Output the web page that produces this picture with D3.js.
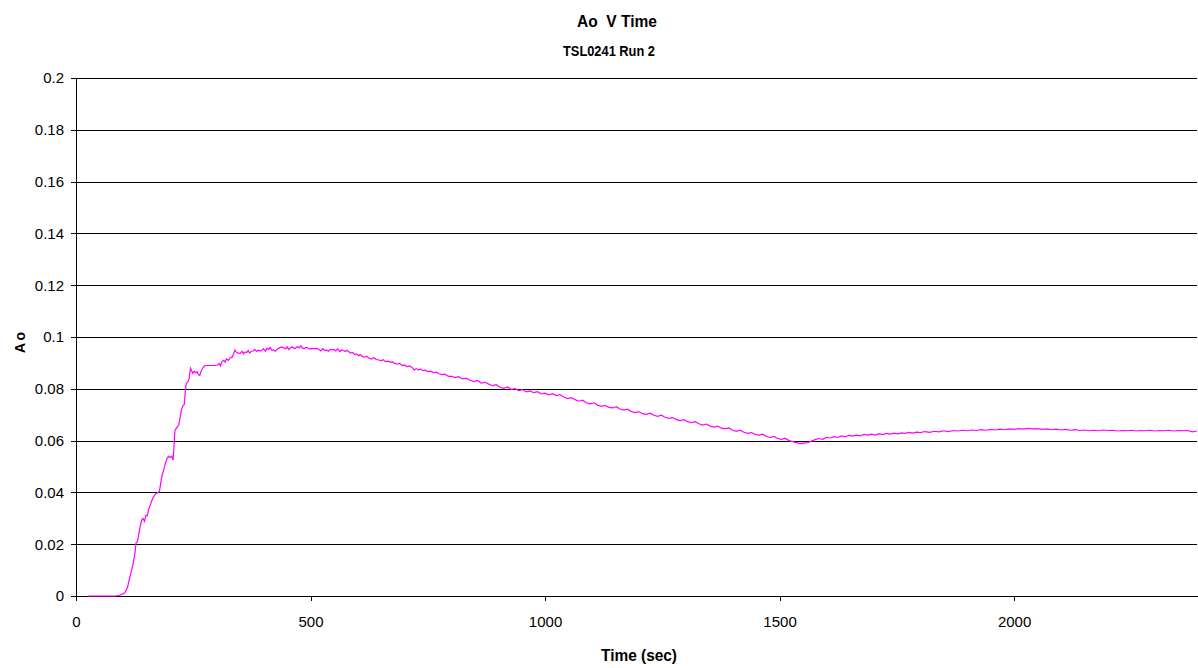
<!DOCTYPE html>
<html>
<head>
<meta charset="utf-8">
<script src="https://cdn.jsdelivr.net/npm/d3@7"></script>
<style>
body { margin: 0; background: #fff; }
</style>
</head>
<body>
<div class="canvas"></div>
<script>
// readings: time (sec) and Ao
var times = [25,50,75,85,92,100,105,110,115,118,122,126,128,131,134,137,140,143,146,149,152,155,158,162,166,170,175,178,181,184,187,190,194,197,200,204,207,209,211,215,219,222,225,228,231,233,235,238,241,244,246,249,252,255,258,261,264,267,271,275,285,295,302,305,308,311,315,318,321,325,329,333,336,339,342,346,350,354,357,360,364,367,370,374,378,381,385,389,392,396,400,404,407,411,414,418,421,425,429,432,436,439,443,447,450,454,457,461,465,468,472,476,479,483,487,490,494,498,502,506,510,514,518,522,526,530,534,538,542,546,550,554,558,562,566,570,574,578,582,586,590,594,598,602,606,610,615,620,625,630,635,640,645,650,655,660,665,670,675,680,685,690,695,700,706,712,718,721,725,730,735,740,745,750,756,762,768,774,780,786,792,797,
800,808,816,824,832,840,848,856,864,872,880,888,896,904,912,920,928,936,944,952,960,968,976,984,992,1000,1008,1016,1024,1032,1040,1048,1056,1064,1072,1080,1088,1096,1104,1112,1120,1128,1136,1144,1152,1160,1168,1176,1184,1192,1200,1208,1216,1224,1232,1240,1248,1256,1264,1272,1280,1288,1296,1304,1312,1320,1328,1336,1344,1352,1360,1368,1376,1384,1392,1400,1408,1416,1424,1432,1440,1448,1456,1464,1472,1480,1488,1496,1504,1512,1520,1528,1536,1544,1552,1560,1568,1576,1584,1592,1600,1608,1616,1624,1632,1640,1648,1656,1664,1672,1680,1688,1696,1704,1712,1720,1728,1736,1744,1752,1760,1768,1776,1784,1792,1800,1810,1820,1830,1840,1850,1860,1870,1880,1890,1900,1910,1920,1930,1940,1950,1960,1970,1980,1990,2000,2010,2020,2030,2040,2050,2060,2070,2080,2090,2100,2110,2120,2130,2140,2150,2160,2170,2180,2190,2200,2210,2220,2230,2240,2250,2260,2270,2280,2290,2300,2310,2320,2330,2340,2350,2360,2370,2380,2390];

var aoValues = [0,0,0,0,0.0003,0.0008,0.0015,0.0035,0.0075,0.0095,0.0126,0.017,0.0205,0.021,0.024,0.027,0.0293,0.030,0.0288,0.0312,0.031,0.0335,0.035,0.037,0.0385,0.0395,0.040,0.0405,0.044,0.047,0.0485,0.051,0.053,0.054,0.0535,0.054,0.0525,0.058,0.064,0.065,0.066,0.069,0.072,0.0735,0.074,0.079,0.082,0.0825,0.0838,0.088,0.0872,0.086,0.0868,0.0862,0.0866,0.0855,0.0852,0.087,0.0882,0.089,0.089,0.089,0.0892,0.0898,0.0888,0.0905,0.091,0.0903,0.0915,0.091,0.092,0.0922,0.0935,0.095,0.0942,0.0938,0.0937,0.0945,0.0935,0.0942,0.094,0.0948,0.0938,0.0945,0.0946,0.0952,0.0944,0.095,0.0946,0.0948,0.0955,0.0945,0.0956,0.0952,0.096,0.0948,0.095,0.0945,0.0953,0.0956,0.096,0.0962,0.0958,0.0955,0.0962,0.0952,0.0958,0.0962,0.0955,0.0957,0.0963,0.0958,0.0966,0.0957,0.0955,0.096,0.0958,0.0953,0.0955,0.0955,0.0955,0.0955,0.0952,0.0946,0.0955,0.0948,0.095,0.0945,0.0952,0.095,0.0952,0.0946,0.0955,0.0944,0.095,0.0948,0.0944,0.0949,0.0942,0.0938,0.094,0.0932,0.0935,0.0928,0.0932,0.0925,0.0922,0.0926,0.0918,0.0915,0.092,0.0913,0.0912,0.0908,0.0912,0.0905,0.0907,0.0903,0.0904,0.0898,0.0895,0.0898,0.089,0.0892,0.0886,0.0888,0.088,0.0872,0.0878,0.0873,0.0876,0.087,0.0872,0.0866,0.0868,0.0862,0.0864,0.0858,0.0855,0.0857,0.085,0.0847,
0.0849,0.0843,0.0847,0.0838,0.0841,0.0833,0.0828,0.0832,0.0822,0.0825,0.0818,0.0812,0.0816,0.0806,0.0802,0.0807,0.0798,0.0801,0.0793,0.0797,0.0788,0.0792,0.0785,0.0789,0.078,0.0783,0.0777,0.0781,0.0774,0.0777,0.0768,0.0762,0.0766,0.0758,0.0752,0.0756,0.0746,0.0742,0.0746,0.0737,0.0732,0.0736,0.0728,0.0726,0.0731,0.0722,0.0718,0.0721,0.0712,0.0708,0.0712,0.0704,0.0701,0.0706,0.0698,0.0694,0.0698,0.069,0.0686,0.0689,0.0681,0.0677,0.0681,0.0673,0.0669,0.0673,0.0665,0.066,0.0664,0.0656,0.0652,0.0656,0.0648,0.0645,0.0649,0.064,0.0636,0.064,0.0632,0.0628,0.0631,0.0624,0.0621,0.0625,0.0616,0.0612,0.0616,0.0608,0.0605,0.0609,0.06,0.0596,0.0592,0.0588,0.059,0.0592,0.0598,0.0604,0.0608,0.0605,0.0612,0.061,0.0615,0.0612,0.0618,0.0615,0.062,0.0617,0.0621,0.0618,0.0624,0.0621,0.0625,0.0621,0.0627,0.0623,0.0628,0.0625,0.0629,0.0626,0.063,0.0628,0.0632,0.0629,0.0633,0.0631,0.0635,0.0632,0.0636,0.0634,0.0638,0.0635,0.0639,0.0637,0.064,0.0638,0.0641,0.0639,0.0642,0.064,0.0643,0.0641,0.0644,0.0642,0.0645,0.0643,0.0646,0.0644,0.0647,0.0645,0.0646,0.0643,0.0645,0.0642,0.0644,0.0641,0.0643,0.064,0.0642,0.0639,0.0641,0.0638,0.064,0.0638,0.0641,0.0639,0.064,0.0637,0.0639,0.0638,0.064,0.0637,0.0639,0.0638,0.064,0.0637,0.0639,0.0638,0.064,0.0637,0.0639,0.0638,0.0639,0.0634,0.0637];

var yTicks = [0,0.02,0.04,0.06,0.08,0.1,0.12,0.14,0.16,0.18,0.2];
var yTickLabels = ["0","0.02","0.04","0.06","0.08","0.1","0.12","0.14","0.16","0.18","0.2"];
var xTicks = [0,500,1000,1500,2000];
var xTickLabels = ["0","500","1000","1500","2000"];

var W = 1198, H = 668;
var mLeft = 76, mRight = 1197, mTop = 78, mBottom = 596;

var svg = d3.select(".canvas")
			.append("svg")
			.attr("width", W)
			.attr("height", H)
			.style("font-family", "'Liberation Sans', Arial, sans-serif");

var x = d3.scaleLinear().domain([0, 2390]).range([mLeft, mRight]);
var y = d3.scaleLinear().domain([0, 0.2]).range([mBottom, mTop]);

// gridlines
svg.append("g")
	.attr("transform", "translate(" + mLeft + ",0)")
	.call(d3.axisLeft(y).tickValues(yTicks.slice(1)).tickSize(-(mRight - mLeft)).tickFormat(""))
	.call(function(g){ g.select(".domain").remove(); })
	.selectAll("line")
	.attr("stroke", "#000")
	.attr("shape-rendering", "crispEdges");

// y axis
var yAxis = svg.append("g")
	.attr("transform", "translate(" + mLeft + ",0)")
	.call(d3.axisLeft(y).tickValues(yTicks).tickSize(5).tickSizeOuter(0)
		.tickFormat(function(d, i){ return yTickLabels[i]; }));
yAxis.attr("font-family", null);
yAxis.selectAll("text").attr("font-size", "15px").attr("fill", "#000").attr("dx", "-4");
yAxis.selectAll("line, path").attr("stroke", "#000").attr("shape-rendering", "crispEdges");

// x axis
var xAxis = svg.append("g")
	.attr("transform", "translate(0," + mBottom + ")")
	.call(d3.axisBottom(x).tickValues(xTicks).tickSize(5).tickSizeOuter(0)
		.tickFormat(function(d, i){ return xTickLabels[i]; }));
xAxis.attr("font-family", null);
xAxis.selectAll("text").attr("font-size", "15px").attr("fill", "#000").attr("dy", "1.55em");
xAxis.selectAll("line, path").attr("stroke", "#000").attr("shape-rendering", "crispEdges");

// trace
var pts = times.map(function(t, i){ return [t, aoValues[i]]; });
svg.append("path")
	.datum(pts)
	.attr("fill", "none")
	.attr("stroke", "#ff00ff")
	.attr("stroke-width", 1.2)
	.attr("d", d3.line().x(function(d){ return x(d[0]); }).y(function(d){ return y(d[1]); }));

// titles
svg.append("text")
	.attr("x", 617)
	.attr("y", 27)
	.attr("text-anchor", "middle")
	.attr("font-size", "16px")
	.attr("font-weight", "bold")
	.attr("xml:space", "preserve")
	.attr("textLength", 80)
	.attr("lengthAdjust", "spacingAndGlyphs")
	.text("Ao  V Time");

svg.append("text")
	.attr("x", 609)
	.attr("y", 56)
	.attr("text-anchor", "middle")
	.attr("font-size", "14px")
	.attr("font-weight", "bold")
	.attr("textLength", 92)
	.attr("lengthAdjust", "spacingAndGlyphs")
	.text("TSL0241 Run 2");

svg.append("text")
	.attr("x", 639)
	.attr("y", 661)
	.attr("text-anchor", "middle")
	.attr("font-size", "16px")
	.attr("font-weight", "bold")
	.attr("textLength", 76)
	.attr("lengthAdjust", "spacingAndGlyphs")
	.text("Time (sec)");

svg.append("text")
	.attr("transform", "translate(25,342.5) rotate(-90)")
	.attr("text-anchor", "middle")
	.attr("font-size", "14px")
	.attr("font-weight", "bold")
	.attr("textLength", 21)
	.attr("lengthAdjust", "spacing")
	.text("Ao");
</script>
</body>
</html>
